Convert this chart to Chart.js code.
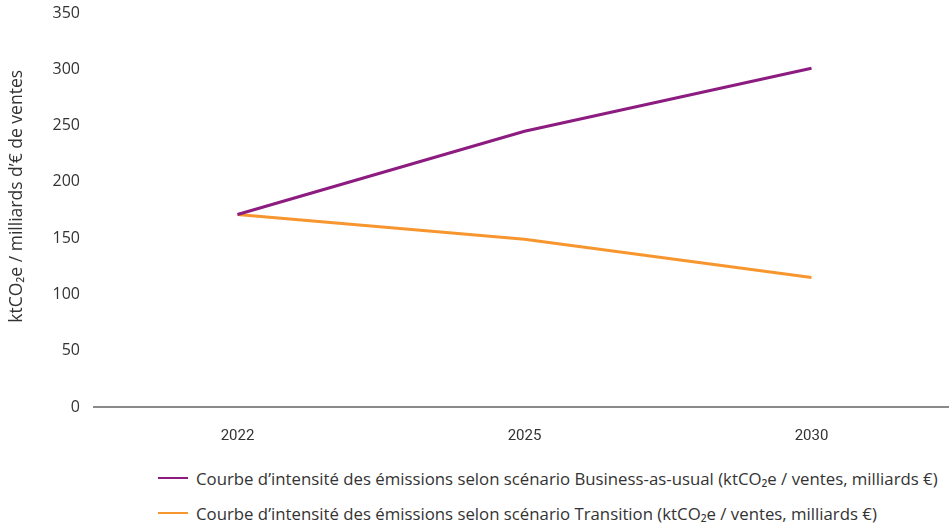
<!DOCTYPE html>
<html>
<head>
<meta charset="utf-8">
<script src="https://cdn.jsdelivr.net/npm/chart.js@4/dist/chart.umd.min.js"></script>
<style>
  body{margin:0;background:#fff;font-family:'Open Sans',sans-serif;overflow:hidden;}
  #wrap{position:relative;width:949px;height:528px;overflow:hidden;}
  #box{position:absolute;left:0;top:0;width:955px;height:455px;}
  #legend{position:absolute;left:158px;top:466px;color:#333;font-size:16.8px;}
  .item{display:flex;align-items:center;height:24px;margin-bottom:11px;white-space:nowrap;}
  .mark{display:inline-block;width:30px;height:2px;margin-right:8px;}
</style>
</head>
<body>
<div id="wrap">
  <div id="box"><canvas id="myLineChart"></canvas></div>
  <div id="legend"></div>
</div>
<script>
const years=['2022','2025','2030'];
const businessAsUsual=[171,245,301];
const transition=[171,149,115];
const seriesNames=[
    'Courbe d’intensité des émissions selon scénario Business-as-usual (ktCO₂e / ventes, milliards €)',
    'Courbe d’intensité des émissions selon scénario Transition (ktCO₂e / ventes, milliards €)'
];
const seriesColors=['#8c1c80','#f7962f'];
// leading spaces push the rotated title a little upwards, like the original
const yTitle='\u00a0\u00a0\u00a0\u00a0\u00a0\u00a0ktCO₂e / milliards d’€ de ventes';

Chart.defaults.color='#333';
Chart.defaults.font.family='Open Sans';
Chart.defaults.font.size=16;

const ctx=document.getElementById('myLineChart');
const lineChart=new Chart(ctx,{
    type:'line',
    data:{
        labels:years,
        datasets:[
            {label:seriesNames[0],data:businessAsUsual,borderColor:seriesColors[0],backgroundColor:seriesColors[0],borderWidth:3,pointRadius:0,tension:0},
            {label:seriesNames[1],data:transition,borderColor:seriesColors[1],backgroundColor:seriesColors[1],borderWidth:3,pointRadius:0,tension:0}
        ]
    },
    options:{
        responsive:true,
        maintainAspectRatio:false,
        animation:false,
        layout:{padding:{top:13,right:0,left:0,bottom:0}},
        plugins:{legend:{display:false},tooltip:{enabled:false}},
        scales:{
            x:{
                offset:true,
                grid:{display:false,drawTicks:false},
                border:{display:true,color:'#8a8a8a',width:2},
                ticks:{padding:20,font:{family:'Roboto',size:15}},
                afterFit(scale){scale.height=48;scale.paddingLeft=0;scale.paddingRight=0;}
            },
            y:{
                min:0,max:350,
                grid:{display:false,drawTicks:false},
                border:{display:false},
                ticks:{stepSize:50,padding:14},
                title:{display:true,text:yTitle,padding:{top:7,bottom:0},font:{size:17.5}},
                afterFit(scale){scale.width=94;scale.paddingTop=0;scale.paddingBottom=0;}
            }
        }
    }
});

// html legend built from the datasets
const legendDiv=document.getElementById('legend');
lineChart.data.datasets.forEach(ds=>{
    const row=document.createElement('div');
    row.className='item';
    const mark=document.createElement('span');
    mark.className='mark';
    mark.style.background=ds.borderColor;
    const txt=document.createElement('span');
    txt.textContent=ds.label;
    row.appendChild(mark);
    row.appendChild(txt);
    legendDiv.appendChild(row);
});
</script>
</body>
</html>
